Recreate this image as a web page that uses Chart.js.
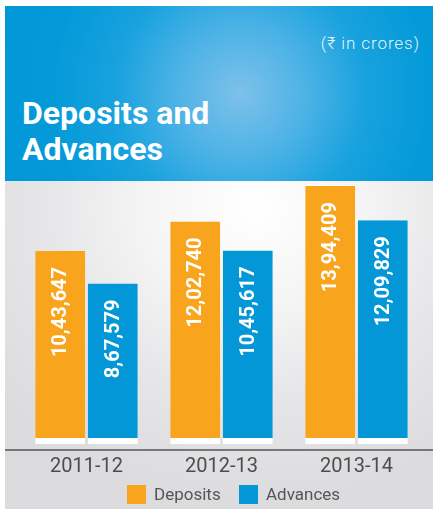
<!DOCTYPE html>
<html>
<head>
<meta charset="utf-8">
<script src="https://cdn.jsdelivr.net/npm/chart.js@4"></script>
<style>
  html, body { margin: 0; padding: 0; background: #fff; overflow: hidden; }
  #wrap { position: relative; width: 433px; height: 509px; font-family: Roboto, "Noto Sans", sans-serif; }
  #head {
    position: absolute; left: 5px; top: 6px; width: 428px; height: 175px;
    background: radial-gradient(circle at 55% 50%, #7dc1ea 0%, #4fb3e6 25%, #18a2de 50%, #049ad9 75%, #0297d7 100%);
    color: #fff;
  }
  #unit {
    position: absolute; right: 13px; top: 27px; font-size: 17px; line-height: 20px;
    font-weight: 300; letter-spacing: 0.9px; color: rgba(255,255,255,0.92);
  }
  #title {
    position: absolute; left: 17px; top: 89px; font-size: 32px; line-height: 36px; font-weight: 700;
  }
  #panel {
    position: absolute; left: 5px; top: 181px; width: 428px; height: 328px;
    background: radial-gradient(ellipse 75% 90% at 58% 8%, #ffffff 0%, #f4f4f5 35%, #e6e6e8 65%, #dcdcdf 100%);
  }
  #legend { position: absolute; left: 0; top: 485px; width: 433px; height: 19px; }
  #legend .box { position: absolute; top: 0; width: 19px; height: 19px; }
  #legend .txt { position: absolute; top: 0; font-size: 17px; line-height: 19px; color: #555; }
</style>
</head>
<body>
<div id="wrap">
  <div id="head">
    <div id="unit">(₹ in crores)</div>
    <div id="title">Deposits and<br>Advances</div>
  </div>
  <div id="panel"><canvas id="chart" width="428" height="328"></canvas></div>
  <div id="legend">
    <span class="box" id="lg-box-0" style="left:127px"></span><span class="txt" id="lg-txt-0" style="left:154px"></span>
    <span class="box" id="lg-box-1" style="left:239px"></span><span class="txt" id="lg-txt-1" style="left:266px"></span>
  </div>
</div>
<script>
// ── Data ──────────────────────────────────────────────
var years    = ['2011-12', '2012-13', '2013-14'];
var series   = ['Deposits', 'Advances'];
var deposits = [1043647, 1202740, 1394409];
var advances = [867579, 1045617, 1209829];

var COLORS = ['#f8a51d', '#0397d7'];

// ── Indian digit grouping: 10,43,647 ──────────────────
function inr(n) {
  var s = String(n);
  if (s.length <= 3) return s;
  var last = s.slice(-3), rest = s.slice(0, -3);
  return rest.replace(/\B(?=(\d{2})+(?!\d))/g, ',') + ',' + last;
}

// ── Plugins ───────────────────────────────────────────
var baseLine = {
  id: 'baseLine',
  beforeDatasetsDraw: function (chart) {
    var ctx = chart.ctx, y = chart.chartArea.bottom;
    ctx.save();
    ctx.strokeStyle = '#555';
    ctx.lineWidth = 1.5;
    ctx.beginPath();
    ctx.moveTo(0, y);
    ctx.lineTo(chart.width, y);
    ctx.stroke();
    ctx.restore();
  }
};

var barValues = {
  id: 'barValues',
  afterDatasetsDraw: function (chart) {
    var ctx = chart.ctx;
    ctx.save();
    ctx.fillStyle = '#fff';
    ctx.font = 'bold 20px Roboto, "Noto Sans", sans-serif';
    ctx.textAlign = 'right';
    ctx.textBaseline = 'middle';
    chart.data.datasets.forEach(function (ds, i) {
      chart.getDatasetMeta(i).data.forEach(function (bar, j) {
        ctx.save();
        ctx.translate(bar.x, bar.y + 16);
        ctx.rotate(-Math.PI / 2);
        ctx.fillText(inr(ds.data[j]), 0, 1);
        ctx.restore();
      });
    });
    ctx.restore();
  }
};

// ── Chart ─────────────────────────────────────────────
var barStyle = {
  borderColor: '#fff',
  borderWidth: { top: 0, left: 0, right: 0, bottom: 6 },
  borderSkipped: false,
  barPercentage: 0.952,
  categoryPercentage: 0.778
};

var chart = new Chart(document.getElementById('chart'), {
  type: 'bar',
  data: {
    labels: years,
    datasets: [
      Object.assign({ label: series[0], data: deposits, backgroundColor: COLORS[0] }, barStyle),
      Object.assign({ label: series[1], data: advances, backgroundColor: COLORS[1] }, barStyle)
    ]
  },
  options: {
    responsive: false,
    animation: false,
    layout: { padding: { left: 14, right: 9, top: 4, bottom: 25 } },
    plugins: {
      tooltip: { enabled: false },
      legend: { display: false }
    },
    scales: {
      x: {
        grid: { display: false, drawTicks: false },
        border: { display: false },
        ticks: {
          padding: 5,
          color: '#4d4d4d',
          font: { family: 'Roboto, "Noto Sans", sans-serif', size: 20, lineHeight: 1.2 }
        }
      },
      y: {
        display: false,
        min: -32000,
        max: 1400000
      }
    }
  },
  plugins: [baseLine, barValues]
});

// ── Legend (HTML, from the chart's datasets) ─────────
chart.data.datasets.forEach(function (ds, i) {
  document.getElementById('lg-box-' + i).style.background = ds.backgroundColor;
  document.getElementById('lg-txt-' + i).textContent = ds.label;
});
</script>
</body>
</html>
